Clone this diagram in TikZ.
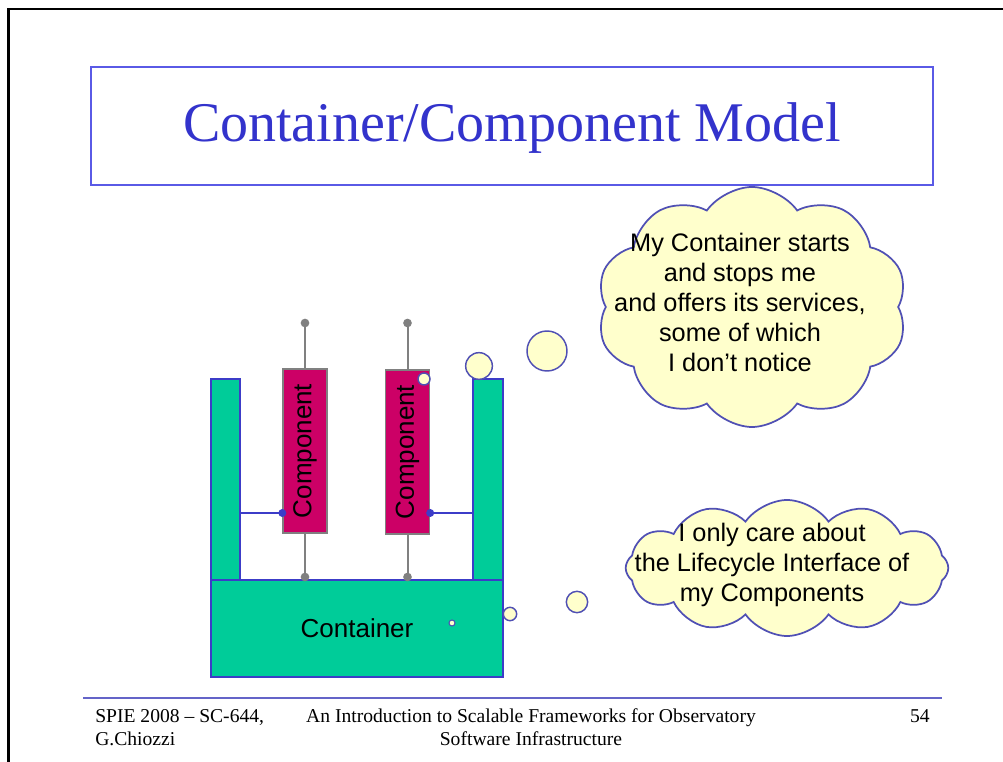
\documentclass[tikz,border=0pt]{standalone}
\usepackage{fontspec}
\setmainfont{Liberation Serif}
\newfontfamily\arialf{Liberation Sans}
\usetikzlibrary{shapes.symbols}
\definecolor{cgreen}{RGB}{0,204,153}
\definecolor{cmag}{RGB}{204,0,102}
\definecolor{cblue}{RGB}{60,60,200}
\definecolor{cgray}{RGB}{128,128,128}
\definecolor{cyel}{RGB}{255,255,204}
\definecolor{cloudline}{RGB}{80,80,180}
\definecolor{ttlblue}{RGB}{51,51,204}
\definecolor{boxblue}{RGB}{90,90,230}
\definecolor{footline}{RGB}{100,100,200}
\tikzset{
  greenbox/.style={draw=cblue, line width=1pt, fill=cgreen, inner sep=0pt},
  comp/.style={draw=cgray, line width=1pt, fill=cmag, inner sep=0pt, minimum width=33pt, minimum height=123pt, font=\arialf\fontsize{19.5}{22}\selectfont},
  stem/.style={draw=cgray, line width=1.5pt},
  link/.style={draw=cblue, line width=0.9pt},
  graydot/.style={circle, fill=cgray, inner sep=0pt, minimum size=6.5pt},
  bluedot/.style={circle, fill=cblue, inner sep=0pt, minimum size=6pt},
  bub/.style={circle, draw=cloudline, fill=cyel, line width=1.1pt, inner sep=0pt},
  thought/.style={cloud, draw=cloudline, fill=cyel, line width=1.3pt, cloud ignores aspect, inner sep=0pt},
  ctext/.style={align=center, font=\arialf\fontsize{19}{22.5}\selectfont},
  foot/.style={font=\fontsize{14.7}{17.3}\selectfont, inner sep=0pt}
}
\begin{document}
\begin{tikzpicture}[x=0.75pt,y=-0.75pt]
\useasboundingbox (0,0) rectangle (1003,762);
\fill[white] (0,0) rectangle (1003,762);
% outer frame
\draw[black, line width=2pt] (8.5,770) -- (8.5,9) -- (1010,9);
% title
\node[draw=boxblue, line width=1.2pt, minimum width=631.5pt, minimum height=88.5pt, inner sep=0pt] (title) at (512,126) {};
\node[text=ttlblue, font=\fontsize{42}{48}\selectfont, inner sep=0pt] (ttl) at (512,128) {Container/Component Model};
% container
\node[greenbox, minimum width=21.75pt, minimum height=150.75pt] (postL) at (225.5,479.5) {};
\node[greenbox, minimum width=22.5pt, minimum height=150.75pt] (postR) at (488,479.5) {};
\node[greenbox, minimum width=219pt, minimum height=72.75pt, font=\arialf\fontsize{19.5}{22}\selectfont, text=black] (base) at (357,628.5) {Container};
% stems
\coordinate (topL) at (305,323);
\coordinate (botL) at (305,577);
\coordinate (topR) at (407.5,323);
\coordinate (botR) at (407.5,577);
\node[comp] (c1) at (305,451) {\rotatebox{90}{Component}};
\node[comp] (c2) at (407.5,452) {\rotatebox{90}{Component}};
\draw[stem] (topL) -- (c1.north);
\draw[stem] (c1.south) -- (botL);
\draw[stem] (topR) -- (c2.north);
\draw[stem] (c2.south) -- (botR);
\node[graydot] (dtL) at (topL) {};
\node[graydot] (dbL) at (botL) {};
\node[graydot] (dtR) at (topR) {};
\node[graydot] (dbR) at (botR) {};
% lifecycle links
\coordinate (iL) at (c1.west |- 0,513);
\coordinate (iR) at (c2.east |- 0,513);
\draw[link] (iL) -- (iL -| postL.east);
\draw[link] (iR) -- (iR -| postR.west);
\node[bluedot] (diL) at (iL) {};
\node[bluedot] (diR) at (iR) {};
% thought bubbles (upper)
\node[bub, minimum size=9pt] (u1) at (424,379) {};
\node[bub, minimum size=20pt] (u2) at (479,366) {};
\node[bub, minimum size=30pt] (u3) at (547,351) {};
\node[thought, cloud puffs=10, cloud puff arc=110, minimum width=233pt, minimum height=180pt] (cl1) at (752,307) {};
\node[ctext] (t1) at (740,302) {My Container starts\\and stops me\\and offers its services,\\some of which\\I don’t notice};
% thought bubbles (lower)
\node[bub, minimum size=4.5pt, line width=0.8pt] (l1) at (452,623) {};
\node[bub, minimum size=10pt] (l2) at (510,614) {};
\node[bub, minimum size=16pt] (l3) at (577,602) {};
\node[thought, cloud puffs=12, cloud puff arc=110, minimum width=242pt, minimum height=102pt] (cl2) at (787,568) {};
\node[ctext] (t2) at (772,565) {I only care about\\the Lifecycle Interface of\\my Components};
% footer
\coordinate (fl1) at (83,698);
\coordinate (fl2) at (942,698);
\draw[footline, line width=2pt] (fl1) -- (fl2);
\node[foot, anchor=base west] (f1) at (95,722) {SPIE 2008 – SC-644,};
\node[foot, anchor=base west] (f2) at (95,745) {G.Chiozzi};
\node[foot, anchor=base] (f3) at (531,722) {An Introduction to Scalable Frameworks for Observatory};
\node[foot, anchor=base] (f4) at (531,745) {Software Infrastructure};
\node[foot, anchor=base east] (f5) at (930,722) {54};
\end{tikzpicture}
\end{document}
